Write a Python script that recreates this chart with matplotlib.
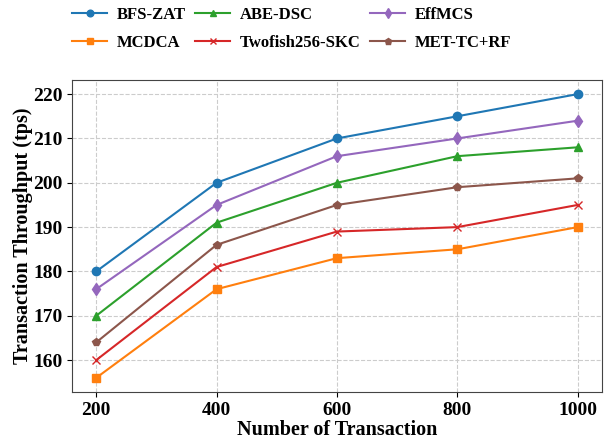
import numpy as np
import matplotlib
matplotlib.use("Agg")
from matplotlib import pyplot as plt

plt.rcParams['font.family'] = ['Liberation Serif', 'DejaVu Serif']
plt.rcParams['font.weight'] = 'bold'

transactions = [200, 400, 600, 800, 1000]

bfs_zat = [180, 200, 210, 215, 220]
mcdca = [156, 176, 183, 185, 190]
abe_dsc = [170, 191, 200, 206, 208]
twofish = [160, 181, 189, 190, 195]
effmcs = [176, 195, 206, 210, 214]
met_tc_rf = [164, 186, 195, 199, 201]

series = [
    ("BFS-ZAT", bfs_zat, "o", "#1f77b4"),
    ("MCDCA", mcdca, "s", "#ff7f0e"),
    ("ABE-DSC", abe_dsc, "^", "#2ca02c"),
    ("Twofish256-SKC", twofish, "x", "#d62728"),
    ("EffMCS", effmcs, "d", "#9467bd"),
    ("MET-TC+RF", met_tc_rf, "p", "#8c564b"),
]

fig = plt.figure(figsize=(6.06, 4.44), dpi=100)
ax = fig.add_axes([0.119, 0.117, 0.874, 0.703])

for name, vals, mk, col in series:
    ax.plot(transactions, vals, marker=mk, color=col, label=name,
            linewidth=1.5, markersize=6)

ax.set_xticks(transactions)
ax.set_yticks(np.arange(160, 221, 10))
ax.tick_params(labelsize=14)
ax.set_xlabel("Number of Transaction", fontsize=14.5, fontweight='bold', labelpad=1)
ax.set_ylabel("Transaction Throughput (tps)", fontsize=14.5, fontweight='bold', labelpad=0)
ax.grid(True, linestyle='--', color='#cccccc', linewidth=0.8)
for sp in ax.spines.values():
    sp.set_color('#444444')

fig.legend(loc='upper left', bbox_to_anchor=(0.108, 1.0), ncol=3, frameon=False,
           fontsize=12, handlelength=2.1, columnspacing=0.6, handletextpad=0.55,
           labelspacing=0.75, borderaxespad=0, markerscale=0.8)

fig.savefig("out.png", dpi=100)
